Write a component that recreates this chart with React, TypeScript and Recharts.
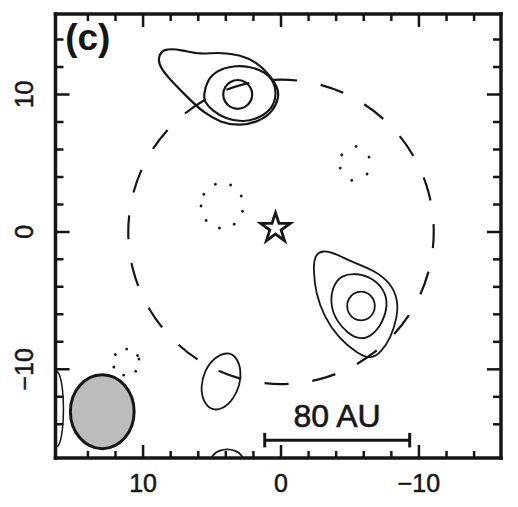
import React from "react"
import { ComposedChart, Line, XAxis, YAxis, Scatter, ReferenceArea, ReferenceDot, Symbols } from "recharts"

// offsets in arcsec, x runs east (left) to west (right)
const xTicks = [-14, -12, -10, -8, -6, -4, -2, 0, 2, 4, 6, 8, 10, 12, 14]
const yTicks = [-14, -12, -10, -8, -6, -4, -2, 0, 2, 4, 6, 8, 10, 12, 14]
const xDomain = [-15.95, 16.35]
const yDomain = [-16.45, 15.85]

const northOuter = [
  [8.95, 12.63], [8.52, 13.4], [7.08, 13.21], [5.85, 12.9], [4.62, 13.07], [2.96, 12.9], [1.73, 12.3],
  [0.95, 11.55], [0.22, 10.52], [0.15, 9.8], [0.55, 8.8], [1.52, 8.05], [2.96, 7.7], [4.4, 7.95],
  [5.63, 8.7], [6.57, 9.58], [7.8, 10.81], [8.74, 11.9],
]
const northMid = [
  [5.61, 9.94], [5.36, 11.03], [4.64, 11.76], [3.44, 12.1], [2.24, 12.03], [1.16, 11.64], [0.48, 10.91],
  [0.33, 9.94], [0.64, 8.97], [1.52, 8.3], [2.72, 7.97], [4.04, 8.22], [5.0, 8.85], [5.54, 9.45],
]
const northCore = [
  [4.24, 10.0], [4.09, 10.55], [3.69, 10.95], [3.14, 11.1], [2.59, 10.95], [2.19, 10.55],
  [2.04, 10.0], [2.19, 9.45], [2.59, 9.05], [3.14, 8.9], [3.69, 9.05], [4.09, 9.45],
]
const southOuter = [
  [-3.05, -1.33], [-2.42, -1.69], [-2.35, -2.79], [-2.52, -4.48], [-3.14, -6.18], [-4.12, -7.66],
  [-5.56, -8.88], [-6.52, -9.26], [-7.26, -8.76], [-7.98, -7.66], [-8.43, -6.18], [-8.48, -4.97],
  [-7.98, -3.75], [-6.77, -2.79], [-5.08, -2.16], [-3.88, -1.55],
]
const southMid = [
  [-4.35, -3.13], [-5.56, -3.0], [-6.64, -3.37], [-7.51, -4.24], [-7.75, -5.33], [-7.38, -6.57],
  [-6.64, -7.53], [-5.8, -7.86], [-4.84, -7.41], [-3.97, -6.42], [-3.57, -5.21], [-3.73, -4.0],
]
const southCore = [
  [-4.75, -5.39], [-4.89, -4.84], [-5.27, -4.44], [-5.8, -4.29], [-6.33, -4.44], [-6.71, -4.84],
  [-6.85, -5.39], [-6.71, -5.94], [-6.33, -6.34], [-5.8, -6.49], [-5.27, -6.34], [-4.89, -5.94],
]
const southBlob = [
  [3.92, -8.7], [3.22, -9.09], [2.88, -10.06], [2.98, -11.15], [3.44, -12.15], [4.17, -12.88],
  [5.02, -13.0], [5.64, -12.38], [5.84, -11.27], [5.52, -10.06], [4.9, -9.19],
]
const edgeLens = [
  [16.85, -12.9], [16.78, -11.45], [16.58, -10.4], [16.3, -10.0], [16.02, -10.4], [15.82, -11.45],
  [15.75, -12.9], [15.82, -14.35], [16.02, -15.4], [16.3, -15.8], [16.58, -15.4], [16.78, -14.35],
]
const edgeArc = [
  [5.1, -16.6], [4.94, -16.2], [4.5, -15.9], [3.9, -15.78], [3.3, -15.9], [2.86, -16.2],
  [2.7, -16.6], [2.86, -17.05], [3.3, -17.38], [3.9, -17.5], [4.5, -17.38], [4.94, -17.05],
]
const negCentre = [
  [5.87, 1.91], [5.66, 2.77], [5.07, 3.4], [4.27, 3.63], [3.47, 3.4], [2.88, 2.77],
  [2.67, 1.91], [2.88, 1.05], [3.47, 0.42], [4.27, 0.19], [5.07, 0.42], [5.66, 1.05],
]
const negWest = [
  [-4.21, 4.97], [-4.36, 5.63], [-4.78, 6.1], [-5.36, 6.28], [-5.94, 6.1], [-6.36, 5.63],
  [-6.51, 4.97], [-6.36, 4.31], [-5.94, 3.84], [-5.36, 3.66], [-4.78, 3.84], [-4.36, 4.31],
]
const negSouthEast = [
  [10.23, -9.48], [10.36, -8.98], [10.73, -8.61], [11.23, -8.48], [11.73, -8.61], [12.1, -8.98],
  [12.23, -9.48], [12.1, -9.98], [11.73, -10.35], [11.23, -10.48], [10.73, -10.35], [10.36, -9.98],
]
const ring = [
  [11.2, 0], [10.82, 2.9], [9.7, 5.6], [7.92, 7.92], [5.6, 9.7], [2.9, 10.82], [0, 11.2],
  [-2.9, 10.82], [-5.6, 9.7], [-7.92, 7.92], [-9.7, 5.6], [-10.82, 2.9], [-11.2, 0],
  [-10.82, -2.9], [-9.7, -5.6], [-7.92, -7.92], [-5.6, -9.7], [-2.9, -10.82], [0, -11.2],
  [2.9, -10.82], [5.6, -9.7], [7.92, -7.92], [9.7, -5.6], [10.82, -2.9],
]
const scaleBar = [[1.18, -15.15], [-9.33, -15.15]]
const scaleCapE = [[1.18, -14.62], [1.18, -15.68]]
const scaleCapW = [[-9.33, -14.62], [-9.33, -15.68]]
const star = [[0.4, 0.27]]
const beam = { x1: 15.27, x2: 10.65, y1: -15.77, y2: -10.39 }

const pts = (a: number[][]) => a.map(([x, y]) => ({ x, y }))
const fmt = (v: number) => (v < 0 ? `\u2212${Math.abs(v)}` : `${v}`)
const font = "'Liberation Sans', Arial, Helvetica, sans-serif"
const ink = "#161616"

function BottomLabel(props: any) {
  const { x, y, payload } = props
  if (payload.value % 10 !== 0) return <g />
  return (
    <text x={x} y={y + 34} textAnchor="middle" fontSize={25} fontFamily={font} fill={ink} stroke={ink} strokeWidth={0.5}>
      {fmt(payload.value)}
    </text>
  )
}
function LeftLabel(props: any) {
  const { x, y, payload } = props
  if (payload.value % 10 !== 0) return <g />
  return (
    <text x={x - 22} y={y} transform={`rotate(-90, ${x - 22}, ${y})`} textAnchor="middle" fontSize={25} fontFamily={font} fill={ink} stroke={ink} strokeWidth={0.5}>
      {fmt(payload.value)}
    </text>
  )
}

const frame = { stroke: ink, strokeWidth: 3.5, strokeLinecap: "square" as const }

function contour(key: string, data: number[][], opts: any = {}) {
  return (
    <Line
      key={key}
      data={pts(data)}
      dataKey="y"
      type={opts.type ?? "basisClosed"}
      stroke={ink}
      strokeWidth={opts.width ?? 2}
      strokeDasharray={opts.dash}
      strokeLinecap={opts.cap ?? "butt"}
      dot={false}
      activeDot={false}
      isAnimationActive={false}
    />
  )
}

// inward tick marks on all four sides, lengths in data units
const vMaj = 0.95
const vMin = 0.51
const hMaj = 1.02
const hMin = 0.58
function tickMarks() {
  const out: any[] = []
  xTicks.forEach((t) => {
    const l = t % 10 === 0 ? vMaj : vMin
    out.push(contour(`b${t}`, [[t, yDomain[0]], [t, yDomain[0] + l]], { type: "linear", width: 2.5 }))
    out.push(contour(`t${t}`, [[t, yDomain[1]], [t, yDomain[1] - l]], { type: "linear", width: 2.5 }))
  })
  yTicks.forEach((t) => {
    const l = t % 10 === 0 ? hMaj : hMin
    out.push(contour(`l${t}`, [[xDomain[1], t], [xDomain[1] - l, t]], { type: "linear", width: 2.5 }))
    out.push(contour(`r${t}`, [[xDomain[0], t], [xDomain[0] + l, t]], { type: "linear", width: 2.5 }))
  })
  return out
}

export default function App() {
  return (
    <div style={{ width: 510, height: 499, background: "#fff" }}>
      <ComposedChart width={510} height={499} margin={{ top: 5, right: 16, bottom: 0, left: 0 }}>
        <XAxis
          type="number"
          dataKey="x"
          domain={xDomain}
          reversed
          allowDataOverflow
          ticks={xTicks}
          interval={0}
          height={49}
          tickSize={0}
          tickMargin={0}
          tickLine={false}
          axisLine={frame}
          tick={BottomLabel}
        />
        <XAxis
          xAxisId="t"
          orientation="top"
          type="number"
          dataKey="x"
          domain={xDomain}
          reversed
          allowDataOverflow
          ticks={xTicks}
          height={1}
          tickLine={false}
          axisLine={frame}
          tick={false}
        />
        <YAxis
          type="number"
          domain={yDomain}
          allowDataOverflow
          ticks={yTicks}
          interval={0}
          width={47.5}
          tickSize={0}
          tickMargin={0}
          tickLine={false}
          axisLine={frame}
          tick={LeftLabel}
        />
        <YAxis
          yAxisId="r"
          orientation="right"
          type="number"
          domain={yDomain}
          allowDataOverflow
          ticks={yTicks}
          width={1}
          tickLine={false}
          axisLine={frame}
          tick={false}
        />

        {tickMarks()}

        {contour("ring", ring, { dash: "24 23.9", width: 2.2 })}
        {contour("negC", negCentre, { dash: "0.1 15.5", width: 2.8, cap: "round" })}
        {contour("negW", negWest, { dash: "0.1 17.5", width: 2.8, cap: "round" })}
        {contour("negSE", negSouthEast, { dash: "0.1 13", width: 2.8, cap: "round" })}
        {contour("nO", northOuter, { width: 2.2 })}
        {contour("nM", northMid, { width: 2.2 })}
        {contour("nC", northCore, { width: 2.2 })}
        {contour("sO", southOuter, { width: 1.8 })}
        {contour("sM", southMid, { width: 1.8 })}
        {contour("sC", southCore, { width: 1.8 })}
        {contour("blob", southBlob, { width: 1.8 })}
        {contour("lens", edgeLens, { width: 1.5 })}
        {contour("arc", edgeArc, { width: 1.8 })}
        {contour("bar", scaleBar, { type: "linear", width: 3 })}
        {contour("capE", scaleCapE, { type: "linear", width: 3 })}
        {contour("capW", scaleCapW, { type: "linear", width: 3 })}

        <Scatter
          data={pts(star)}
          dataKey="y"
          isAnimationActive={false}
          shape={(p: any) => (
            <Symbols cx={p.cx} cy={p.cy} type="star" size={270} fill="#fff" stroke={ink} strokeWidth={2.8} strokeLinejoin="miter" />
          )}
        />

        <ReferenceArea
          x1={beam.x1}
          x2={beam.x2}
          y1={beam.y1}
          y2={beam.y2}
          shape={(p: any) => (
            <ellipse
              cx={p.x + p.width / 2}
              cy={p.y + p.height / 2}
              rx={p.width / 2}
              ry={p.height / 2}
              fill="#bcbcbc"
              stroke={ink}
              strokeWidth={3}
            />
          )}
        />

        <ReferenceDot
          x={15.65}
          y={13.2}
          r={0}
          shape={(p: any) => (
            <text x={p.cx} y={p.cy} fontSize={37} fontWeight="bold" fontFamily={font} fill={ink}>
              (c)
            </text>
          )}
        />
        <ReferenceDot
          x={-4.06}
          y={-14.2}
          r={0}
          shape={(p: any) => (
            <text x={p.cx} y={p.cy} textAnchor="middle" fontSize={32} fontFamily={font} fill={ink} stroke={ink} strokeWidth={0.6}>
              80 AU
            </text>
          )}
        />
      </ComposedChart>
    </div>
  )
}
